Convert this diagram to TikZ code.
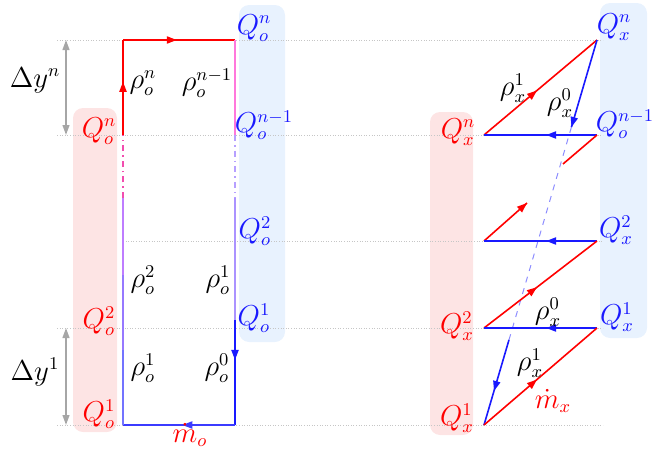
\documentclass[tikz,border=0pt]{standalone}
\usepackage{amsmath}
\usetikzlibrary{arrows.meta,calc,decorations.markings}
\definecolor{qred}{RGB}{255,0,0}
\definecolor{qblue}{RGB}{25,25,255}
\definecolor{boxred}{RGB}{253,228,228}
\definecolor{boxblue}{RGB}{232,242,254}
\definecolor{pinkline}{RGB}{255,120,220}
\definecolor{lavA}{RGB}{190,125,255}
\definecolor{lavB}{RGB}{150,120,255}
\definecolor{lavC}{RGB}{115,115,255}
\tikzset{flow/.style={line width=0.8pt},
  midarr/.style={postaction={decorate},decoration={markings,mark=at position #1 with {\arrow{Triangle[length=5pt,width=3.6pt]}}}},
  midarr/.default=0.5,
  guide/.style={gray!45,line width=0.3pt,densely dotted},
  band/.style={rounded corners=5pt},
  dim/.style={{Triangle[length=5pt,width=3.4pt]}-{Triangle[length=5pt,width=3.4pt]},gray!70,line width=0.9pt},
  lab/.style={inner sep=0pt}}

\begin{document}
\begin{tikzpicture}[x=0.5pt,y=-0.5pt,font=\fontsize{13.5}{16}\selectfont]
\useasboundingbox (0,0) rectangle (654,450);
% bands
\fill[boxred,band] (73,108) rectangle (117,432);
\fill[boxblue,band] (239,5) rectangle (285,342);
\fill[boxred,band] (430,112) rectangle (473,435);
\fill[boxblue,band] (600,3) rectangle (647,338);
% level lines
\foreach \y/\xa in {40/57,135/57,241/123,328/57,425/57} \draw[guide] (\xa,\y) -- (603,\y);
% cell heights
\coordinate (dN1) at (66,40); \coordinate (dN0) at (66,135);
\coordinate (d21) at (66,328); \coordinate (d20) at (66,425);
\draw[dim] (dN1) -- (dN0); \draw[dim] (d21) -- (d20);
\node[lab] (dyN) at (35,80) {$\Delta y^n$};
\node[lab] (dy1) at (35,372) {$\Delta y^1$};

% left loop
\coordinate (oTL) at (123,40); \coordinate (oTR) at (235,40);
\coordinate (oBL) at (123,425); \coordinate (oBR) at (235,425);
\coordinate (oL1) at (123,135); \coordinate (oL2) at (123,198);
\coordinate (oL3) at (123,275); \coordinate (oL4) at (123,350);
\coordinate (oR1) at (235,135); \coordinate (oR2) at (235,198);
\coordinate (oR3) at (235,320);
\draw[flow,qred,midarr=0.56] (oL1) -- (oTL);
\draw[flow,qred,midarr=0.48] (oTL) -- (oTR);
\draw[flow,pinkline] (oTR) -- (oR1);
\draw[flow,lavB!70,dash dot] (oR1) -- (oR2);
\draw[flow,lavB!80] (oR2) -- (oR3);
\draw[flow,qblue,midarr=0.38] (oR3) -- (oBR);
\draw[flow,qblue!85,midarr=0.47] (oBR) -- (oBL);
\draw[flow,lavC] (oBL) -- (oL4);
\draw[flow,lavB] (oL4) -- (oL3);
\draw[flow,lavA] (oL3) -- (oL2);
\draw[flow,magenta!70,dash dot] (oL2) -- (oL1);

\node[lab,qred] (QoN) at (99,131) {$Q_o^n$};
\node[lab,qred] (Qo2) at (99,321) {$Q_o^2$};
\node[lab,qred] (Qo1) at (99,414) {$Q_o^1$};
\node[lab,qblue] (QoNr) at (254,28) {$Q_o^n$};
\node[lab,qblue] (QoMr) at (264,125) {$Q_o^{n-1}$};
\node[lab,qblue] (Qo2r) at (255,231) {$Q_o^2$};
\node[lab,qblue] (Qo1r) at (254,318) {$Q_o^1$};
\node[lab] (rhoN) at (143,83) {$\rho_o^n$};
\node[lab] (rhoM) at (207,83) {$\rho_o^{n-1}$};
\node[lab] (rho2l) at (143,280) {$\rho_o^2$};
\node[lab] (rho1r) at (218,280) {$\rho_o^1$};
\node[lab] (rho1l) at (143,368) {$\rho_o^1$};
\node[lab] (rho0r) at (217,368) {$\rho_o^0$};
\node[lab,qred] (mo) at (190,435) {$\dot m_o$};

% right zigzag
\coordinate (xN) at (597,40);
\coordinate (xNl) at (484,135); \coordinate (xNr) at (597,135);
\coordinate (x2l) at (484,241); \coordinate (x2r) at (597,241);
\coordinate (x1l) at (484,328); \coordinate (x1r) at (597,328);
\coordinate (x0l) at (484,425);
\coordinate (xCut) at (563,164); \coordinate (xTip) at (527,203);
\coordinate (xB1) at ($(xN)!0.226!(x0l)$); \coordinate (xB2) at ($(xN)!0.779!(x0l)$);
\draw[flow,qred,midarr=0.47] (xNl) -- (xN);
\draw[flow,qblue,midarr=1] (xN) -- (xB1);
\draw[qblue!50,line width=0.5pt,dashed] (xB1) -- (xB2);
\draw[flow,qblue,midarr=0.6] (xB2) -- (x0l);
\draw[flow,qblue,midarr=0.45] (xNr) -- (xNl);
\draw[flow,qred] (xNr) -- (xCut);
\draw[flow,qred,midarr=1] (x2l) -- (xTip);
\draw[flow,qblue,midarr=0.45] (x2r) -- (x2l);
\draw[flow,qred,midarr=0.47] (x1l) -- (x2r);
\draw[flow,qblue,midarr=0.45] (x1r) -- (x1l);
\draw[flow,qred,midarr=0.47] (x0l) -- (x1r);

\node[lab,qred] (QxN) at (458,132) {$Q_x^n$};
\node[lab,qred] (Qx2) at (457,326) {$Q_x^2$};
\node[lab,qred] (Qx1) at (457,418) {$Q_x^1$};
\node[lab,qblue] (QxNr) at (614,27) {$Q_x^n$};
\node[lab,qblue] (QoMx) at (625,124) {$Q_o^{n-1}$};
\node[lab,qblue] (Qx2r) at (616,230) {$Q_x^2$};
\node[lab,qblue] (Qx1r) at (617,317) {$Q_x^1$};
\node[lab] (rx1t) at (513,88) {$\rho_x^1$};
\node[lab] (rx0t) at (560,103) {$\rho_x^0$};
\node[lab] (rx0b) at (548,312) {$\rho_x^0$};
\node[lab] (rx1b) at (530,363) {$\rho_x^1$};
\node[lab,qred] (mx) at (553,401) {$\dot m_x$};
\end{tikzpicture}
\end{document}
